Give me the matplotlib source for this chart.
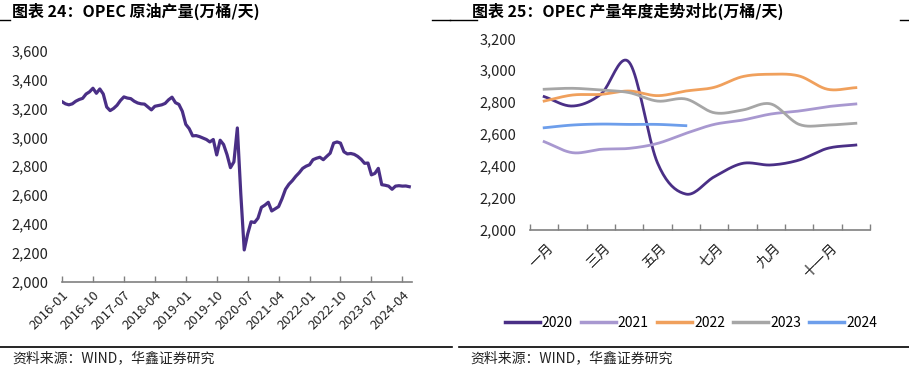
import numpy as np
import matplotlib
matplotlib.use("Agg")
import matplotlib.pyplot as plt
from matplotlib.lines import Line2D

plt.rcParams['font.family'] = ['Noto Sans CJK SC', 'DejaVu Sans']

# ---------------- data ----------------
left_title = "图表 24：OPEC 原油产量(万桶/天)"
right_title = "图表 25：OPEC 产量年度走势对比(万桶/天)"
source_text = "资料来源：WIND，华鑫证券研究"

start_year, start_month = 2016, 1
opec_monthly = [
    3247, 3232, 3225, 3232, 3250, 3262, 3270, 3300, 3315, 3340, 3305, 3335,
    3300, 3210, 3185, 3200, 3222, 3255, 3280, 3272, 3268, 3250, 3238, 3232,
    3230, 3210, 3190, 3215, 3220, 3225, 3235, 3260, 3278, 3240, 3228, 3180,
    3090, 3060, 3010, 3012, 3005, 2995, 2985, 2968, 2985, 2878, 2980, 2950,
    2880, 2790, 2830, 3065, 2610, 2220, 2330, 2415, 2410, 2440, 2515, 2530,
    2550, 2490, 2505, 2520, 2575, 2640, 2675, 2700, 2730, 2755, 2785, 2800,
    2810, 2845, 2855, 2862, 2845, 2868, 2890, 2960, 2968, 2960, 2900, 2885,
    2888, 2882, 2868, 2848, 2820, 2822, 2740, 2750, 2785, 2672, 2668, 2662,
    2640, 2662, 2665, 2662, 2663, 2658,
]
left_tick_step = 9
left_yticks = [2000, 2200, 2400, 2600, 2800, 3000, 3200, 3400, 3600]

months = ["一月", "二月", "三月", "四月", "五月", "六月",
          "七月", "八月", "九月", "十月", "十一月", "十二月"]
years = ["2020", "2021", "2022", "2023", "2024"]
y2020 = [2835, 2776, 2850, 3050, 2420, 2225, 2333, 2417, 2407, 2438, 2511, 2532]
y2021 = [2553, 2484, 2505, 2511, 2542, 2605, 2661, 2688, 2726, 2745, 2772, 2789]
y2022 = [2807, 2845, 2849, 2870, 2841, 2870, 2893, 2960, 2975, 2964, 2881, 2891]
y2023 = [2881, 2887, 2876, 2860, 2807, 2820, 2734, 2751, 2789, 2661, 2657, 2668]
y2024 = [2640, 2657, 2663, 2661, 2661, 2653]
right_yticks = [2000, 2200, 2400, 2600, 2800, 3000, 3200]
colors = ["#4a2f86", "#a898d0", "#f0a05c", "#a6a6a6", "#6d9eeb"]

# ---------------- helpers ----------------
def catmull(xs, ys, n=20):
    xs = np.asarray(xs, float); ys = np.asarray(ys, float)
    if len(xs) < 3:
        return xs, ys
    px = np.concatenate([[2*xs[0]-xs[1]], xs, [2*xs[-1]-xs[-2]]])
    py = np.concatenate([[2*ys[0]-ys[1]], ys, [2*ys[-1]-ys[-2]]])
    ox, oy = [], []
    for i in range(1, len(px)-2):
        t = np.linspace(0, 1, n, endpoint=False)
        for arr, out in ((px, ox), (py, oy)):
            p0, p1, p2, p3 = arr[i-1], arr[i], arr[i+1], arr[i+2]
            out.extend(0.5*((2*p1) + (-p0+p2)*t + (2*p0-5*p1+4*p2-p3)*t**2 + (-p0+3*p1-3*p2+p3)*t**3))
    ox.append(xs[-1]); oy.append(ys[-1])
    return np.array(ox), np.array(oy)

fmt = lambda v: f"{v:,}"
axis_gray = "#808080"
text_col = "#222222"

fig = plt.figure(figsize=(9.09, 3.68), dpi=100)
W, H = 909, 368

def fx(px): return px / W
def fy(py): return 1 - py / H

def style(ax):
    for s in ['top', 'right', 'left']:
        ax.spines[s].set_visible(False)
    ax.spines['bottom'].set_color(axis_gray)
    ax.spines['bottom'].set_linewidth(1.2)
    ax.tick_params(axis='y', length=0, pad=10)
    ax.tick_params(axis='x', direction='in', length=4, color=axis_gray, width=1, pad=6)
    ax.patch.set_alpha(0)

# ---------------- left chart ----------------
axL = fig.add_axes([fx(62), fy(281.7), (412-62)/W, (281.7-50.7)/H])
n = len(opec_monthly)
xi = np.arange(n)
axL.plot(xi, opec_monthly, color=colors[0], lw=2.3, solid_joinstyle='round')
axL.set_xlim(0, 101.8)
axL.set_ylim(2000, 3600)
axL.set_yticks(left_yticks)
axL.set_yticklabels([fmt(v) for v in left_yticks], fontsize=10.5, color=text_col)
tick_pos = list(range(0, n, left_tick_step))
tick_lab = []
for k in tick_pos:
    yy = start_year + (start_month - 1 + k) // 12
    mm = (start_month - 1 + k) % 12 + 1
    tick_lab.append(f"{yy}-{mm:02d}")
axL.set_xticks(tick_pos)
axL.set_xticklabels(tick_lab, rotation=45, ha='right', va='top', fontsize=9.5,
                    color=text_col, rotation_mode='anchor')
style(axL)
axL.tick_params(axis='x', pad=5)

# ---------------- right chart ----------------
axR = fig.add_axes([fx(530), fy(230), (870-530)/W, (230-38.3)/H])
series = [y2020, y2021, y2022, y2023, y2024]
handles = []
for lab, vals, c in zip(years, series, colors):
    sx, sy = catmull(np.arange(len(vals)), vals)
    axR.plot(sx, sy, color=c, lw=2.0)
    handles.append(Line2D([], [], color=c, lw=2.5))
axR.set_xlim(-0.5, 11.5)
axR.set_ylim(2000, 3200)
axR.set_yticks(right_yticks)
axR.set_yticklabels([fmt(v) for v in right_yticks], fontsize=10.5, color=text_col)
axR.set_xticks(np.arange(-0.5, 12, 1))
axR.set_xticklabels([])
style(axR)
axR.tick_params(axis='x', labelbottom=False)
for i in range(0, 12, 2):
    axR.text(i + 0.08, 1930, months[i], rotation=45, ha='right', va='top',
             rotation_mode='anchor', fontsize=10, color=text_col,
             transform=axR.transData)

fig.legend(handles, years, loc='center', bbox_to_anchor=(fx(691), fy(323)),
           ncol=5, frameon=False, fontsize=10, handlelength=2.5,
           handletextpad=0.15, columnspacing=0.6)

# ---------------- titles / footers ----------------
fig.text(fx(12), fy(11), left_title, fontsize=11.5, fontweight='bold',
         va='center', ha='left', color='black')
fig.text(fx(472), fy(11), right_title, fontsize=11.5, fontweight='bold',
         va='center', ha='left', color='black')
for (a, b) in [(0, 10), (432, 450), (450, 477), (900, 909)]:
    fig.add_artist(Line2D([fx(a), fx(b)], [fy(20), fy(20)], color='black', lw=1))
for (a, b) in [(0, 452), (459, 909)]:
    fig.add_artist(Line2D([fx(a), fx(b)], [fy(347), fy(347)], color='black', lw=1.2))
fig.text(fx(12), fy(358), source_text, fontsize=10, va='center', ha='left', color=text_col)
fig.text(fx(470), fy(358), source_text, fontsize=10, va='center', ha='left', color=text_col)

fig.savefig("out.png", dpi=100, facecolor='white')
